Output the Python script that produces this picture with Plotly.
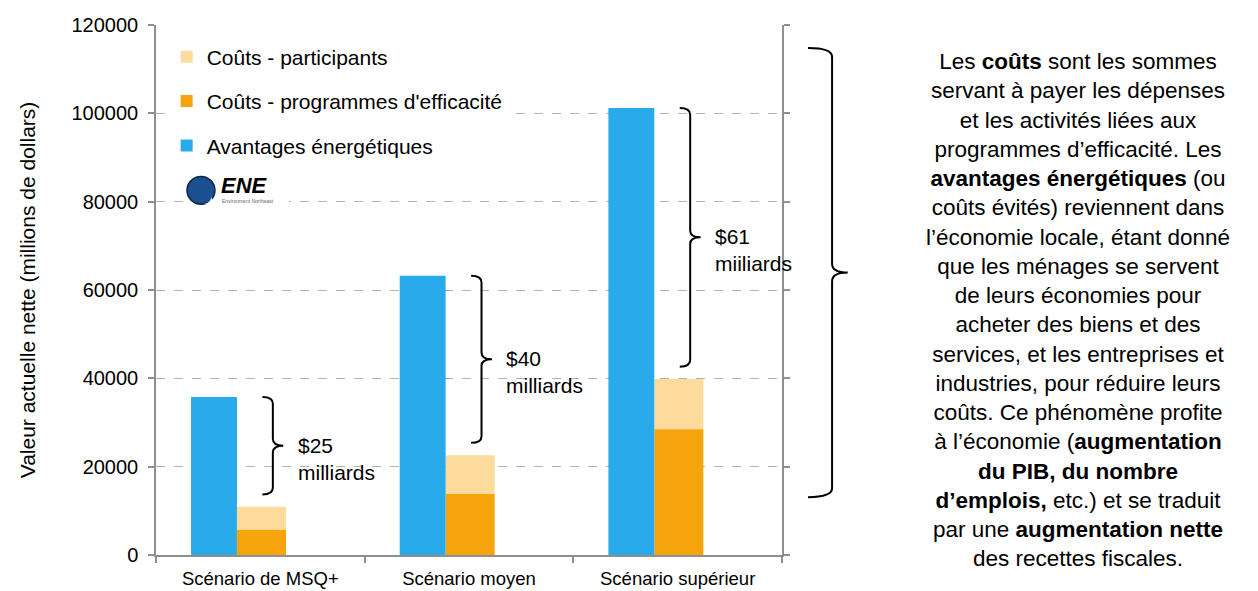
import plotly.graph_objects as go

# ---- data ----
categories = ["Scénario de MSQ+", "Scénario moyen", "Scénario supérieur"]
avantages = [35800, 63200, 101200]        # Avantages énergétiques
programmes = [5700, 13800, 28500]         # Coûts - programmes d'efficacité
participants = [5200, 8800, 11350]        # Coûts - participants
net_labels = ["$25<br>milliards", "$40<br>milliards", "$61<br>miiliards"]
y_ticks = [0, 20000, 40000, 60000, 80000, 100000, 120000]

FONT = "Liberation Sans, Arial, sans-serif"
BLUE = "#29abeb"
ORANGE = "#f6a40b"
LIGHT = "#fddb9c"

cost_total = [p + q for p, q in zip(programmes, participants)]

fig = go.Figure()
fig.add_trace(go.Bar(
    x=categories, y=participants, base=programmes, name="Coûts - participants",
    marker=dict(color=LIGHT, line=dict(width=0)), offset=-0.112, width=0.235,
    legendgroup="a"))
fig.add_trace(go.Bar(
    x=categories, y=programmes, name="Coûts - programmes d'efficacité",
    marker=dict(color=ORANGE, line=dict(width=0)), offset=-0.112, width=0.235,
    legendgroup="b"))
fig.add_trace(go.Bar(
    x=categories, y=avantages, name="Avantages énergétiques",
    marker=dict(color=BLUE, line=dict(width=0)), offset=-0.332, width=0.22,
    legendgroup="c"))

shapes = []
annotations = []


def brace(x0, x1, x2, top, bottom, d, xref="paper"):
    ym = (top + bottom) / 2
    return dict(
        type="path", xref=xref, yref="y", layer="above",
        path=(f"M{x0},{top} Q{x1},{top} {x1},{top - d} "
              f"L{x1},{ym + d} Q{x1},{ym} {x2},{ym} "
              f"Q{x1},{ym} {x1},{ym - d} "
              f"L{x1},{bottom + d} Q{x1},{bottom} {x0},{bottom}"),
        line=dict(color="black", width=2))


gap = 2800
for i, cat in enumerate(categories):
    xc = (i + 0.5) / 3
    top = avantages[i]
    bottom = cost_total[i] + gap
    shapes.append(brace(xc + 0.01 / 3, xc + 0.06 / 3, xc + 0.11 / 3, top, bottom, 1500))
    annotations.append(dict(
        x=xc + 0.17 / 3, y=(top + bottom) / 2, xref="paper", yref="y",
        text=net_labels[i], showarrow=False, xanchor="left", yanchor="middle",
        yshift=-13, align="left", font=dict(family=FONT, size=21, color="black")))

# big brace on the right
shapes.append(brace(1.0415, 1.080, 1.105, 114800, 13100, 2000))

# logo (approximation)
shapes.append(dict(type="rect", xref="paper", yref="paper", x0=0.043, x1=0.2125,
                   y0=0.657, y1=0.726, fillcolor="white", line=dict(width=0), layer="above"))
shapes.append(dict(type="circle", xref="paper", yref="paper", x0=0.0495, x1=0.0942,
                   y0=0.662, y1=0.714, fillcolor="#1b4f8f",
                   line=dict(color="#0c2748", width=1.5), layer="above"))
annotations.append(dict(x=0.0719, y=0.688, xref="paper", yref="paper", text="✦",
                        showarrow=False, font=dict(family="DejaVu Sans", size=20, color="white")))
annotations.append(dict(x=0.100, y=0.697, xref="paper", yref="paper", text="<b><i>ENE</i></b>",
                        showarrow=False, xanchor="left", yanchor="middle",
                        font=dict(family=FONT, size=22, color="black")))
annotations.append(dict(x=0.102, y=0.668, xref="paper", yref="paper", text="Environment Northeast",
                        showarrow=False, xanchor="left", yanchor="middle",
                        font=dict(family=FONT, size=5, color="#666")))

right_text = (
    "Les <b>coûts</b> sont les sommes<br>"
    "servant à payer les dépenses<br>"
    "et les activités liées aux<br>"
    "programmes d’efficacité. Les<br>"
    "<b>avantages énergétiques</b> (ou<br>"
    "coûts évités) reviennent dans<br>"
    "l’économie locale, étant donné<br>"
    "que les ménages se servent<br>"
    "de leurs économies pour<br>"
    "acheter des biens et des<br>"
    "services, et les entreprises et<br>"
    "industries, pour réduire leurs<br>"
    "coûts. Ce phénomène profite<br>"
    "à l’économie (<b>augmentation</b><br>"
    "<b>du PIB, du nombre</b><br>"
    "<b>d’emplois,</b> etc.) et se traduit<br>"
    "par une <b>augmentation nette</b><br>"
    "des recettes fiscales."
)
annotations.append(dict(x=1.473, y=0.463, xref="paper", yref="paper", text=right_text,
                        showarrow=False, xanchor="center", yanchor="middle", align="center",
                        font=dict(family=FONT, size=22.5, color="black")))

fig.update_layout(
    width=1258, height=591,
    margin=dict(l=156, r=476, t=25, b=36),
    paper_bgcolor="white", plot_bgcolor="white",
    barmode="overlay",
    font=dict(family=FONT, size=18, color="black"),
    showlegend=True,
    legend=dict(x=0.017, y=0.978, xanchor="left", yanchor="top",
                bgcolor="white", borderwidth=0, traceorder="grouped",
                tracegroupgap=14, font=dict(family=FONT, size=21, color="black")),
    shapes=shapes,
    annotations=annotations,
)
fig.update_xaxes(
    range=[-0.5, 2.5], showline=True, linecolor="#8f8f8f", linewidth=1.5,
    ticks="outside", tickson="boundaries", ticklen=6, tickcolor="#8f8f8f", tickwidth=1.5,
    showgrid=False, ticklabelstandoff=6, automargin=False,
    tickfont=dict(family=FONT, size=18.5, color="black"))
fig.update_yaxes(
    range=[0, 120000], tickvals=y_ticks, tickformat="d",
    showline=True, linecolor="#8f8f8f", linewidth=1.5, mirror="ticks",
    ticks="outside", ticklen=6, tickcolor="#8f8f8f", tickwidth=1.5,
    showgrid=True, gridcolor="#b3b3b3", griddash="dash", gridwidth=1,
    zeroline=False, ticklabelstandoff=6,
    tickfont=dict(family=FONT, size=20, color="black"),
    title=dict(text="Valeur actuelle nette (millions de dollars)", standoff=30,
               font=dict(family=FONT, size=21, color="black")),
    automargin=False)

fig.write_html("out.html")
